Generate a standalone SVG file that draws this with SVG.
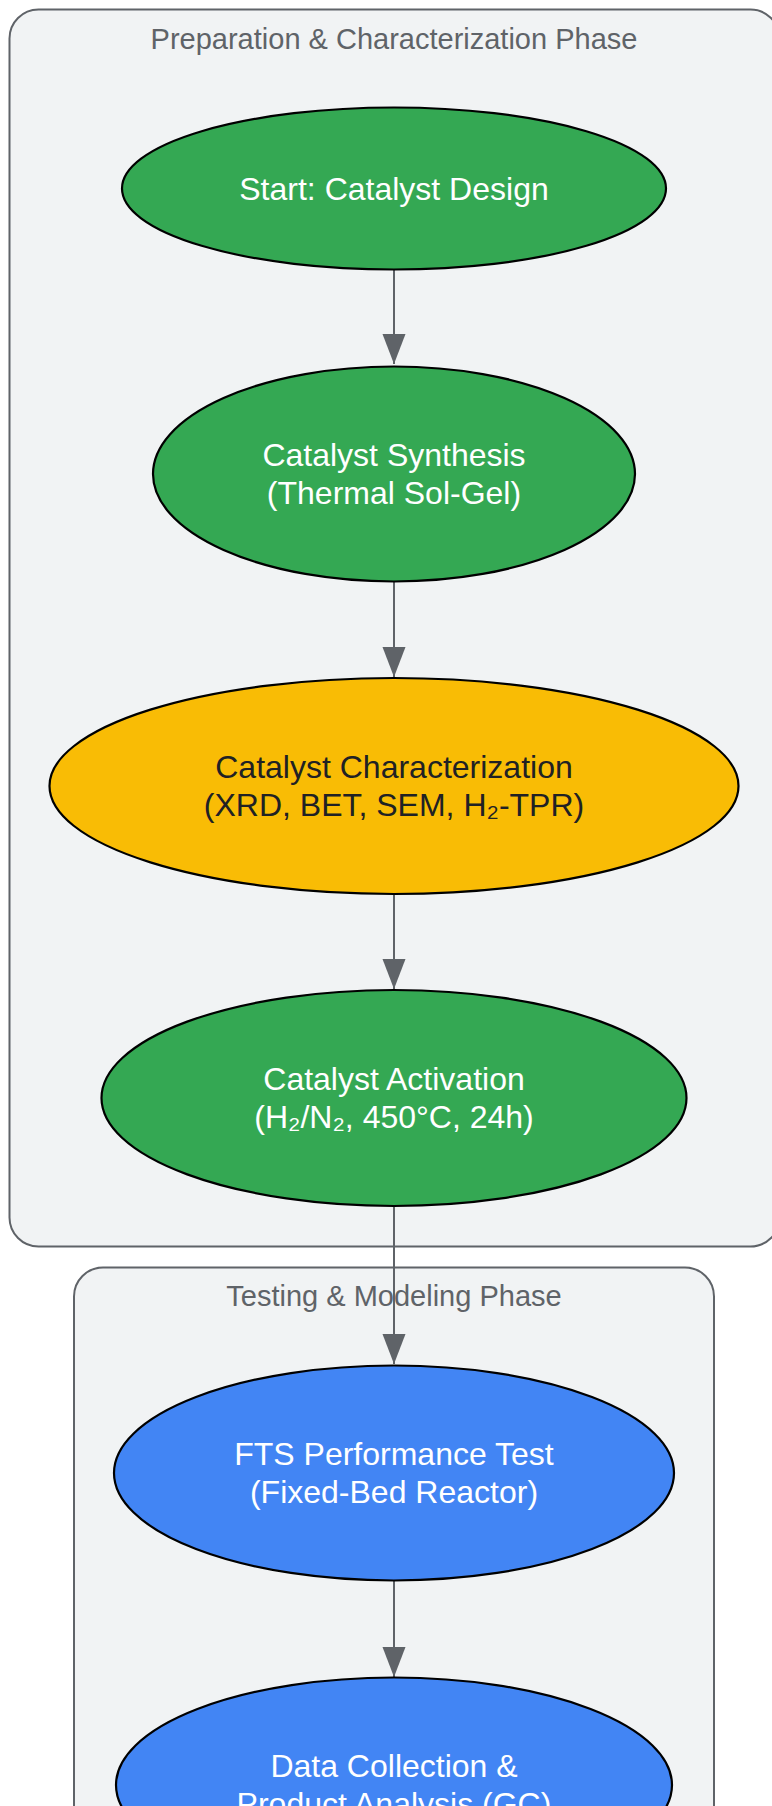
<svg xmlns="http://www.w3.org/2000/svg" width="772" height="1806" viewBox="0 0 772 1806">
<style>
.cluster{fill:#F1F3F4;stroke:#5F6368;stroke-width:2}
.ctitle{font-family:"Liberation Sans",Arial,sans-serif;font-size:29px;fill:#5F6368;text-anchor:middle}
.node ellipse{stroke:#000;stroke-width:2.2}
.green{fill:#34A853}.yellow{fill:#F9BC05}.blue{fill:#4285F4}
.lbl{font-family:"Liberation Sans",Arial,"DejaVu Sans",sans-serif;font-size:32px;text-anchor:middle;fill:#FFFFFF}
.dark{fill:#202124}
.edge{stroke:#5F6368;stroke-width:2;fill:none;marker-end:url(#ah)}
</style>
<defs>
<marker id="ah" markerUnits="userSpaceOnUse" markerWidth="30" markerHeight="24" refX="30" refY="12" orient="auto">
<path d="M0,0.5 L30,12 L0,23.5 z" fill="#5F6368"/>
</marker>
</defs>
<rect width="772" height="1806" fill="#FFFFFF"/>
<g id="cluster-prep">
<rect class="cluster" x="9.5" y="9.5" width="770" height="1237" rx="29"/>
<text class="ctitle" x="394" y="49">Preparation &amp; Characterization Phase</text>
</g>
<g id="cluster-test">
<rect class="cluster" x="74" y="1267.5" width="640" height="600" rx="29"/>
<text class="ctitle" x="394" y="1306">Testing &amp; Modeling Phase</text>
</g>
<g id="edges">
<path class="edge" d="M394,270 L394,364"/>
<path class="edge" d="M394,582 L394,677"/>
<path class="edge" d="M394,894 L394,989"/>
<path class="edge" d="M394,1206 L394,1364"/>
<path class="edge" d="M394,1581 L394,1677"/>
</g>
<g id="start" class="node">
<ellipse class="green" cx="394" cy="188.5" rx="272" ry="81"/>
<text class="lbl" x="394" y="199.5">Start: Catalyst Design</text>
</g>
<g id="synthesis" class="node">
<ellipse class="green" cx="394" cy="474" rx="241" ry="107.5"/>
<text class="lbl" x="394" y="466">Catalyst Synthesis</text>
<text class="lbl" x="394" y="504">(Thermal Sol-Gel)</text>
</g>
<g id="characterization" class="node">
<ellipse class="yellow" cx="394" cy="786" rx="344.5" ry="108"/>
<text class="lbl dark" x="394" y="778">Catalyst Characterization</text>
<text class="lbl dark" x="394" y="816">(XRD, BET, SEM, H₂-TPR)</text>
</g>
<g id="activation" class="node">
<ellipse class="green" cx="394" cy="1098" rx="292.5" ry="108"/>
<text class="lbl" x="394" y="1090">Catalyst Activation</text>
<text class="lbl" x="394" y="1128">(H₂/N₂, 450°C, 24h)</text>
</g>
<g id="fts-test" class="node">
<ellipse class="blue" cx="394" cy="1473" rx="280" ry="107.5"/>
<text class="lbl" x="394" y="1465">FTS Performance Test</text>
<text class="lbl" x="394" y="1503">(Fixed-Bed Reactor)</text>
</g>
<g id="data-collection" class="node">
<ellipse class="blue" cx="394" cy="1785" rx="278" ry="107.5"/>
<text class="lbl" x="394" y="1777">Data Collection &amp;</text>
<text class="lbl" x="394" y="1815">Product Analysis (GC)</text>
</g>
</svg>
